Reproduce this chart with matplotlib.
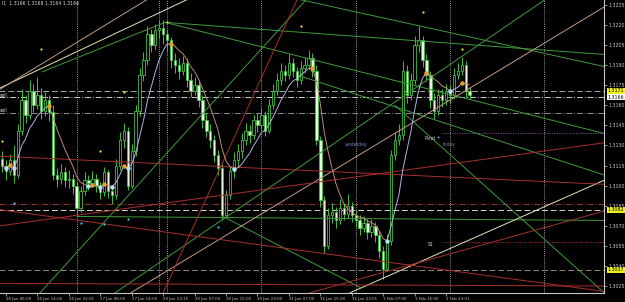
import matplotlib
matplotlib.use('Agg')
from matplotlib import pyplot as plt, transforms
from matplotlib.collections import LineCollection
import numpy as np
import pandas as pd

# hourly candles, 26 Jan 05:00 .. 2 Feb 05:00 (open of each bar = previous close)
first_open = 1.3120
closes = [1.3115, 1.3111, 1.3119, 1.3108, 1.3141, 1.3164, 1.3153, 1.3171, 1.3160, 1.3168,
          1.3156, 1.3164, 1.3155, 1.3108, 1.3105, 1.3110, 1.3104, 1.3105, 1.3100, 1.3083,
          1.3096, 1.3104, 1.3102, 1.3105, 1.3100, 1.3095, 1.3110, 1.3096, 1.3093, 1.3115,
          1.3134, 1.3141, 1.3100, 1.3126, 1.3156, 1.3183, 1.3194, 1.3213, 1.3205, 1.3216,
          1.3218, 1.3213, 1.3209, 1.3194, 1.3190, 1.3186, 1.3192, 1.3179, 1.3171, 1.3175,
          1.3164, 1.3149, 1.3141, 1.3134, 1.3123, 1.3113, 1.3078, 1.3093, 1.3111, 1.3119,
          1.3126, 1.3134, 1.3141, 1.3138, 1.3149, 1.3145, 1.3153, 1.3141, 1.3160, 1.3171,
          1.3179, 1.3186, 1.3183, 1.3192, 1.3186, 1.3179, 1.3188, 1.3190, 1.3195, 1.3186,
          1.3134, 1.3089, 1.3055, 1.3078, 1.3080, 1.3074, 1.3083, 1.3079, 1.3085, 1.3078,
          1.3074, 1.3068, 1.3072, 1.3065, 1.3070, 1.3063, 1.3051, 1.3038, 1.3059, 1.3123,
          1.3134, 1.3138, 1.3186, 1.3168, 1.3179, 1.3205, 1.3209, 1.3194, 1.3183, 1.3164,
          1.3156, 1.3168, 1.3164, 1.3171, 1.3168, 1.3183, 1.3186, 1.3190, 1.3171, 1.3168]
highs = [1.3126, 1.3119, 1.3124, 1.3130, 1.3146, 1.3172, 1.3168, 1.3179, 1.3176, 1.3181,
         1.3173, 1.3170, 1.3168, 1.3160, 1.3113, 1.3116, 1.3114, 1.3112, 1.3109, 1.3103,
         1.3100, 1.3110, 1.3108, 1.3111, 1.3109, 1.3103, 1.3114, 1.3112, 1.3100, 1.3120,
         1.3140, 1.3147, 1.3144, 1.3131, 1.3160, 1.3188, 1.3200, 1.3219, 1.3217, 1.3221,
         1.3224, 1.3224, 1.3216, 1.3211, 1.3199, 1.3195, 1.3197, 1.3195, 1.3184, 1.3181,
         1.3178, 1.3168, 1.3154, 1.3146, 1.3138, 1.3127, 1.3116, 1.3097, 1.3115, 1.3125,
         1.3131, 1.3139, 1.3147, 1.3145, 1.3153, 1.3154, 1.3158, 1.3156, 1.3165, 1.3176,
         1.3184, 1.3192, 1.3190, 1.3198, 1.3195, 1.3189, 1.3193, 1.3196, 1.3201, 1.3199,
         1.3190, 1.3137, 1.3092, 1.3083, 1.3087, 1.3084, 1.3090, 1.3087, 1.3094, 1.3088,
         1.3082, 1.3078, 1.3077, 1.3075, 1.3075, 1.3073, 1.3066, 1.3055, 1.3064, 1.3127,
         1.3140, 1.3146, 1.3193, 1.3190, 1.3184, 1.3212, 1.3219, 1.3212, 1.3198, 1.3186,
         1.3169, 1.3172, 1.3172, 1.3176, 1.3175, 1.3188, 1.3192, 1.3196, 1.3193, 1.3174]
lows = [1.3110, 1.3104, 1.3108, 1.3102, 1.3106, 1.3138, 1.3147, 1.3150, 1.3155, 1.3157,
        1.3150, 1.3152, 1.3148, 1.3104, 1.3099, 1.3101, 1.3099, 1.3098, 1.3094, 1.3078,
        1.3080, 1.3093, 1.3097, 1.3099, 1.3095, 1.3090, 1.3092, 1.3091, 1.3086, 1.3090,
        1.3112, 1.3128, 1.3097, 1.3098, 1.3122, 1.3152, 1.3178, 1.3190, 1.3200, 1.3202,
        1.3210, 1.3206, 1.3200, 1.3188, 1.3184, 1.3180, 1.3183, 1.3174, 1.3166, 1.3168,
        1.3159, 1.3143, 1.3136, 1.3128, 1.3118, 1.3108, 1.3074, 1.3076, 1.3090, 1.3106,
        1.3114, 1.3121, 1.3130, 1.3132, 1.3135, 1.3140, 1.3142, 1.3137, 1.3139, 1.3157,
        1.3168, 1.3175, 1.3178, 1.3180, 1.3181, 1.3174, 1.3176, 1.3184, 1.3187, 1.3181,
        1.3130, 1.3084, 1.3050, 1.3053, 1.3072, 1.3068, 1.3071, 1.3074, 1.3076, 1.3073,
        1.3069, 1.3063, 1.3065, 1.3060, 1.3062, 1.3058, 1.3046, 1.3030, 1.3036, 1.3056,
        1.3119, 1.3130, 1.3134, 1.3162, 1.3164, 1.3176, 1.3200, 1.3189, 1.3178, 1.3158,
        1.3150, 1.3153, 1.3159, 1.3160, 1.3162, 1.3165, 1.3180, 1.3183, 1.3166, 1.3165]

time_ticks = [1, 9, 17, 25, 33, 41, 49, 57, 65, 73, 81, 89, 97, 105, 113]
time_labels = ['26 Jan 06:00', '26 Jan 14:00', '26 Jan 22:01', '27 Jan 06:00', '27 Jan 14:00',
               '29 Jan 23:15', '30 Jan 07:00', '30 Jan 15:00', '30 Jan 23:00', '31 Jan 07:00',
               '31 Jan 15:00', '31 Jan 23:01', '1 Feb 07:00', '1 Feb 15:00', '1 Feb 23:01']
day_separators = [19, 40, 42, 66, 90, 114, 138]
price_ticks = [1.3235, 1.3220, 1.3205, 1.3190, 1.3175, 1.3160, 1.3145, 1.3130,
               1.3115, 1.3100, 1.3085, 1.3070, 1.3055, 1.3040, 1.3025]

# small marks above highs / below lows
yellow_bars = [0, 10, 25, 31, 42, 76, 107, 117]
yellow_prices = [1.3133, 1.3202, 1.3126, 1.3170, 1.3222, 1.3219, 1.3230, 1.3202]
cyan_bars = [3, 20, 26, 32, 55]
cyan_prices = [1.3087, 1.3072, 1.3071, 1.3075, 1.3069]

# trend lines: (bar1, price1, bar2, price2)
green_lines = [(10.2, 1.3185, 41.5, 1.3222), (41.5, 1.3222, 153.2, 1.3198),
               (41.5, 1.3222, 153.2, 1.3139), (75.8, 1.3239, 153.2, 1.3189),
               (9.7, 1.3020, 77.4, 1.3239), (28.8, 1.3020, 138.2, 1.3239),
               (56.2, 1.3077, 91.1, 1.3024), (19.1, 1.3077, 153.2, 1.3074),
               (100.0, 1.3160, 153.2, 1.3020), (75.8, 1.3182, 153.2, 1.3108)]
cream_lines = [(-0.5, 1.3173, 47.1, 1.3239), (88.6, 1.3020, 153.2, 1.3104)]
tan_lines = [(-0.5, 1.3172, 36.9, 1.3239), (32.8, 1.3020, 155.2, 1.3237)]
red_lines = [(-0.5, 1.3122, 153.2, 1.3101), (-0.5, 1.3070, 153.2, 1.3132),
             (41.0, 1.3020, 75.1, 1.3239), (-0.5, 1.3082, 153.2, 1.3021),
             (-0.5, 1.3027, 153.2, 1.3025), (78.4, 1.3020, 153.2, 1.3081)]

# horizontal levels
level_prices = [1.3171, 1.3166, 1.3154, 1.3139, 1.3086, 1.3082, 1.3058, 1.3037]
level_start = [-1, -1, -1, 112, -1, -1, 112, -1]
level_colors = ['#a8a898', '#d0d0d0', '#909090', '#9050b0', '#a03030', '#d8d8c8', '#b03030', '#8c8c78']
level_styles = [(0, (6, 3)), (0, (6, 2, 1, 2)), (0, (6, 2, 1, 2)), (0, (1, 1.5)),
                (0, (6, 2, 1, 2)), (0, (6, 3)), (0, (1, 1.5)), (0, (6, 3))]
box_prices = [1.3171, 1.3166, 1.3082, 1.3037]
box_colors = ['#f0f020', 'white', '#f0f020', '#f0f020']

CANDLE = '#3fbf3f'

fig = plt.figure(figsize=(6.25, 3.02), dpi=100, facecolor='black')
ax = fig.add_axes([0, 9 / 302, 604 / 625, 293 / 302])
ax.set_facecolor('black')

n = len(closes)
idx = np.arange(n)
o = np.array([first_open] + closes[:-1])
c = np.array(closes)
h = np.array(highs)
l = np.array(lows)
up = c >= o

# separators
for b in day_separators:
    ax.axvline(b, color='#c8c8c8', lw=0.6, ls=(0, (1, 1.5)), zorder=1)

# levels
for p, s, col, st in zip(level_prices, level_start, level_colors, level_styles):
    ax.plot([s, 160], [p, p], color=col, lw=0.7, ls=st, zorder=2)

# candles
ax.vlines(idx, l, h, color=CANDLE, lw=0.7, zorder=3)
body = np.maximum(np.abs(c - o), 0.00004)
ax.bar(idx, body, bottom=np.minimum(o, c), width=0.6,
       color=np.where(up, 'black', '#e6f5dc'), edgecolor=CANDLE, linewidth=0.6, zorder=4)

# trend lines
for group, col in [(green_lines, '#3f9a3a'), (cream_lines, '#e6e2b4'),
                   (tan_lines, '#c49a84'), (red_lines, '#a8302c')]:
    for b1, p1, b2, p2 in group:
        ax.plot([b1, b2], [p1, p2], color=col, lw=0.7, zorder=5)

# moving average (LWMA 10) coloured by direction
period = 10
w = np.arange(1, period + 1)
ma = pd.Series(closes).rolling(period, min_periods=1).apply(
    lambda s: np.dot(s, w[-len(s):]) / w[-len(s):].sum(), raw=True).values
slope = np.diff(ma)
segs = np.stack([np.column_stack([idx[:-1], ma[:-1]]), np.column_stack([idx[1:], ma[1:]])], axis=1)
seg_cols = np.where(slope > 0, '#b4b4e6', '#c08a7c')
ax.add_collection(LineCollection(segs, colors=seg_cols, linewidths=0.7, zorder=6))
turn_dn = [i for i in range(1, len(slope)) if slope[i - 1] > 0 and slope[i] <= 0]
turn_up = [i for i in range(1, len(slope)) if slope[i - 1] < 0 and slope[i] >= 0]
ax.plot(turn_dn, ma[turn_dn], 'o', color='#e8a024', ms=3.2, mew=0, zorder=7)
ax.plot(turn_up, ma[turn_up], 'o', color='#b8e2f4', ms=3.2, mew=0, zorder=7)

ax.plot(yellow_bars, yellow_prices, 'o', color='#e8e840', ms=1.6, mew=0, zorder=7)
ax.plot(cyan_bars, cyan_prices, 'o', color='#40c8e8', ms=1.6, mew=0, zorder=7)

# labels on chart
ax.text(87.3, 1.31311, 'yesterday', color='#7080b8', fontsize=3.3, va='center', zorder=8)
ax.text(112.2, 1.31311, 'today', color='#7080b8', fontsize=3.3, va='center', zorder=8)
ax.text(107.6, 1.31356, 'Pivot', color='#d8d8d8', fontsize=3.3, va='center', zorder=8)
ax.plot([111.0], [1.31366], 's', color='#60d0f0', ms=1.2, mew=0, zorder=8)
ax.text(108.4, 1.30557, 'S1', color='#d8d8d8', fontsize=3.3, va='center', zorder=8)
ax.text(-0.5, 1.31677, 'sell', color='#d8d8d8', fontsize=3.3, va='center', zorder=8)
ax.text(-0.5, 1.31558, 'sell', color='#d8d8d8', fontsize=3.3, va='center', zorder=8)
fig.text(0.003, 0.997, 'l1  1.3166 1.3168 1.3164 1.3166', color='#d8d8d8', fontsize=3.3, va='top')

ax.set_xlim(-0.51, 153.18)
ax.set_ylim(1.30198, 1.32387)

for side in ['left', 'top']:
    ax.spines[side].set_visible(False)
for side in ['right', 'bottom']:
    ax.spines[side].set_color('#c8c8c8')
    ax.spines[side].set_linewidth(0.8)

ax.yaxis.tick_right()
ax.set_yticks(price_ticks)
ax.set_yticklabels(['%.4f' % p for p in price_ticks])
ax.set_xticks(time_ticks)
ax.set_xticklabels(time_labels, ha='left')
ax.tick_params(axis='y', colors='#c8c8c8', labelsize=3.4, length=2, width=0.5, pad=1)
ax.tick_params(axis='x', colors='#c8c8c8', labelsize=2.9, length=2, width=0.5, pad=1)

tr = transforms.blended_transform_factory(ax.transAxes, ax.transData)
for p, col in zip(box_prices, box_colors):
    ax.text(1.006, p, '%.4f' % p, transform=tr, fontsize=3.4, color='black', va='center',
            bbox=dict(facecolor=col, edgecolor='none', pad=0.4), clip_on=False, zorder=9)

fig.savefig('out.png', dpi=100, facecolor='black')
